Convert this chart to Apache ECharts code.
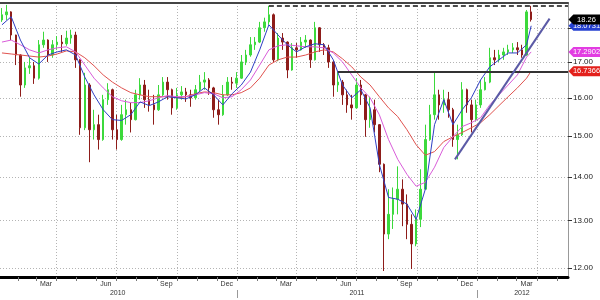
<!DOCTYPE html>
<html>
<head>
<meta charset="utf-8">
<script src="https://cdn.jsdelivr.net/npm/echarts@6/dist/echarts.min.js"></script>
<style>
  html, body { margin: 0; padding: 0; background: #fff; }
  #chart { width: 600px; height: 300px; }
</style>
</head>
<body>
<div id="chart"></div>
<script>
// Weekly bars, one per Friday from 2010-01-08.
// Each row is [open, close, low, high].
const ohlc = [
  [18.25, 18.41, 18.19, 18.62], [18.41, 18.50, 18.25, 18.72], [18.50, 17.79, 17.64, 18.52], [17.79, 17.20, 16.91, 17.80],
  [17.20, 16.35, 16.03, 17.22], [16.35, 16.83, 16.27, 17.00], [16.83, 16.89, 16.66, 17.12], [16.89, 16.54, 16.38, 17.00],
  [16.54, 17.50, 16.50, 17.64], [17.50, 17.64, 17.41, 17.89], [17.64, 17.20, 17.00, 17.66], [17.20, 17.50, 17.12, 17.64],
  [17.50, 17.58, 17.35, 17.76], [17.58, 17.53, 17.29, 17.79], [17.53, 17.70, 17.47, 17.92], [17.70, 17.79, 17.53, 17.95],
  [17.79, 17.06, 16.83, 17.89], [17.06, 15.21, 15.03, 17.08], [15.21, 16.35, 15.15, 16.69], [16.35, 15.16, 14.35, 16.40],
  [15.16, 15.29, 14.91, 15.68], [15.29, 14.91, 14.66, 15.55], [14.91, 15.95, 14.88, 16.08], [15.95, 16.22, 15.81, 16.40],
  [16.22, 15.16, 14.91, 16.25], [15.16, 14.91, 14.66, 15.55], [14.91, 15.55, 14.88, 15.81], [15.55, 15.68, 15.29, 15.95],
  [15.68, 15.42, 15.09, 15.87], [15.42, 16.08, 15.40, 16.22], [16.08, 16.35, 15.95, 16.54], [16.35, 15.95, 15.73, 16.49],
  [15.95, 15.81, 15.63, 16.22], [15.81, 15.68, 15.29, 16.08], [15.68, 16.08, 15.65, 16.35], [16.08, 16.43, 16.05, 16.57],
  [16.43, 16.22, 15.95, 16.57], [16.22, 15.73, 15.55, 16.25], [15.73, 16.08, 15.68, 16.27], [16.08, 16.16, 15.95, 16.32],
  [16.16, 16.08, 15.89, 16.27], [16.08, 16.00, 15.76, 16.22], [16.00, 16.22, 15.95, 16.35], [16.22, 16.43, 16.16, 16.63],
  [16.43, 16.49, 16.22, 16.71], [16.49, 16.27, 16.08, 16.54], [16.27, 15.68, 15.47, 16.30], [15.68, 15.55, 15.29, 15.95],
  [15.55, 16.08, 15.52, 16.35], [16.08, 16.43, 16.05, 16.57], [16.43, 16.40, 16.22, 16.57], [16.40, 16.54, 16.27, 16.71],
  [16.54, 17.00, 16.52, 17.20], [17.00, 17.20, 16.91, 17.35], [17.20, 17.50, 17.15, 17.73], [17.50, 17.58, 17.35, 17.73],
  [17.58, 18.01, 17.55, 18.19], [18.01, 18.19, 17.89, 18.32], [18.19, 18.41, 18.10, 18.69], [18.41, 17.06, 17.00, 18.45],
  [17.06, 17.70, 17.02, 17.85], [17.70, 17.58, 17.35, 17.85], [17.58, 16.77, 16.54, 17.60], [16.77, 17.41, 16.75, 17.55],
  [17.41, 17.35, 17.12, 17.55], [17.35, 17.58, 17.33, 17.73], [17.58, 17.64, 17.41, 17.79], [17.64, 17.06, 16.83, 17.66],
  [17.06, 18.01, 17.04, 18.19], [18.01, 17.50, 17.29, 18.03], [17.50, 17.41, 17.20, 17.55], [17.41, 17.00, 16.83, 17.50],
  [17.00, 16.35, 16.03, 17.02], [16.35, 16.43, 16.16, 16.71], [16.43, 16.08, 15.81, 16.49], [16.08, 15.81, 15.60, 16.22],
  [15.81, 15.73, 15.42, 16.08], [15.73, 16.35, 15.71, 16.54], [16.35, 16.08, 15.81, 16.49], [16.08, 15.42, 14.98, 16.10],
  [15.42, 15.68, 15.21, 16.03], [15.68, 15.29, 15.09, 15.95], [15.29, 14.30, 14.11, 15.30], [14.30, 12.71, 11.94, 14.32],
  [12.71, 13.14, 12.60, 13.71], [13.14, 13.48, 12.82, 13.75], [13.48, 13.71, 13.14, 14.25], [13.71, 13.37, 12.88, 13.94],
  [13.37, 12.92, 12.60, 13.59], [12.92, 12.50, 11.98, 13.14], [12.50, 13.03, 12.45, 13.25], [13.03, 13.71, 12.86, 14.18],
  [13.71, 14.91, 13.71, 15.29], [14.91, 15.55, 14.88, 15.81], [15.55, 16.08, 15.42, 16.71], [16.08, 15.81, 15.42, 16.22],
  [15.81, 15.95, 15.60, 16.22], [15.95, 15.68, 15.47, 16.16], [15.68, 14.91, 14.73, 15.73], [14.91, 15.03, 14.42, 15.29],
  [15.03, 16.22, 15.00, 16.43], [16.22, 15.81, 15.60, 16.25], [15.81, 15.42, 15.09, 15.95], [15.42, 15.81, 15.37, 15.95],
  [15.81, 16.22, 15.73, 16.49], [16.22, 16.43, 16.20, 16.57], [16.43, 17.12, 16.40, 17.41], [17.12, 17.06, 16.91, 17.35],
  [17.06, 17.20, 17.00, 17.35], [17.20, 17.29, 17.06, 17.41], [17.29, 17.35, 17.20, 17.50], [17.35, 17.41, 17.26, 17.55],
  [17.41, 17.35, 17.20, 17.58], [17.35, 17.20, 17.12, 17.50], [17.20, 18.50, 17.18, 18.56], [18.50, 18.26, 18.20, 18.69]
];
const firstFriday = [2010, 0, 8];

// Moving averages, read every second week (weeks 0, 2, ... 114) plus the last week.
const blueMA = [18.10, 18.35, 17.64, 17.12, 16.94, 17.20, 17.29, 17.35, 17.20, 16.57, 16.08, 15.68, 15.42, 15.40, 15.55,
  15.89, 15.79, 15.89, 16.03, 16.00, 15.97, 16.08, 16.27, 16.08, 15.81, 16.11, 16.35, 16.71, 17.35, 18.10, 17.79, 17.50,
  17.29, 17.44, 17.53, 17.50, 17.06, 16.35, 16.00, 16.22, 15.73, 14.30, 13.52, 13.48, 13.37, 13.03, 13.71, 15.29, 15.95,
  15.29, 15.68, 16.00, 16.49, 16.86, 17.06, 17.26, 17.26, 17.50, 18.07];
const pinkMA = [17.58, 17.64, 17.50, 17.35, 17.26, 17.35, 17.41, 17.44, 17.29, 16.91, 16.54, 16.27, 16.03, 15.92, 15.87,
  15.87, 15.92, 16.00, 16.06, 16.03, 16.03, 16.08, 16.14, 16.11, 16.00, 16.03, 16.22, 16.49, 16.91, 17.35, 17.47, 17.50,
  17.47, 17.44, 17.44, 17.41, 17.26, 17.00, 16.63, 16.27, 16.00, 15.55, 14.91, 14.42, 14.06, 13.78, 13.87, 14.23, 14.71,
  14.98, 15.24, 15.34, 15.47, 15.81, 16.08, 16.35, 16.63, 17.14, 17.29];
const redMA = [17.26, 17.23, 17.20, 17.17, 17.14, 17.17, 17.23, 17.32, 17.29, 17.12, 16.89, 16.63, 16.43, 16.27, 16.14,
  16.08, 16.03, 16.03, 16.03, 16.00, 16.03, 16.11, 16.16, 16.14, 16.08, 16.08, 16.14, 16.27, 16.54, 16.91, 17.06, 17.14,
  17.14, 17.20, 17.29, 17.35, 17.29, 17.09, 16.86, 16.57, 16.35, 16.03, 15.73, 15.50, 15.16, 14.78, 14.52, 14.61, 14.86,
  14.98, 15.09, 15.21, 15.34, 15.55, 15.79, 16.03, 16.27, 16.54, 16.74];

// Values printed in the tags on the right edge
const lastPrice = 18.26, blueLast = 18.0731, pinkLast = 17.2902, redLast = 16.7366;

// Drawn levels
const highLine = { from: '2011-02-18', value: 18.69 };
const supportLine = { from: '2011-06-03', value: 16.72 };
const trendLine = [['2011-11-28', 14.42], ['2012-04-20', 18.29]];

// Axes
const xMin = '2010-01-05', xMax = '2012-05-18';
const yMin = 11.82, yMax = 18.78;
const yGrid = [12, 13, 14, 15, 16, 17, 18];
const yLabels = [12, 13, 14, 15, 16, 17];
const monthNames = ['Jan', 'Feb', 'Mar', 'Apr', 'May', 'Jun', 'Jul', 'Aug', 'Sep', 'Oct', 'Nov', 'Dec'];
const monthLabelDates = ['2010-03-16', '2010-06-15', '2010-09-15', '2010-12-16', '2011-03-16',
  '2011-06-15', '2011-09-15', '2011-12-16', '2012-03-16'];
const yearLabelDates = ['2010-07-03', '2011-07-02', '2012-03-09'];
const yearBreaks = ['2011-01-01', '2012-01-01'];

const FONT = '"Liberation Sans", Arial, sans-serif';

// dates become UTC milliseconds on plain value axes
const ts = s => Date.parse(s + 'T00:00:00Z');
const X0 = ts(xMin), X1 = ts(xMax);

const weekTimes = ohlc.map((_, i) => Date.UTC(firstFriday[0], firstFriday[1], firstFriday[2] + i * 7));
const maTimes = blueMA.map((_, j) => weekTimes[j === blueMA.length - 1 ? ohlc.length - 1 : j * 2]);

// month starts inside the visible range; every third one gets a grid line
const monthStarts = [], quarterStarts = [];
for (let y = 2010; y <= 2012; y++) {
  for (let m = 0; m < 12; m++) {
    const t = Date.UTC(y, m, 1);
    if (t <= X0 || t >= X1) continue;
    monthStarts.push(t);
    if (m % 3 === 0) quarterStarts.push(t);
  }
}

function tag(value, text, bg) {
  return {
    coord: [X1, value],
    symbol: 'path://M0,5L5,0L34,0L34,10L5,10Z',
    symbolSize: [33, 10],
    symbolOffset: [17, 0],
    symbolKeepAspect: false,
    itemStyle: { color: bg },
    label: {
      show: true, position: 'inside', formatter: text, offset: [1.5, 0],
      color: '#fff', fontSize: 7.5, fontFamily: FONT
    }
  };
}

function maSeries(name, values, color, label, labelBg) {
  return {
    name, type: 'line', clip: false, symbol: 'none',
    data: values.map((v, j) => [maTimes[j], v]),
    lineStyle: { color, width: 1 },
    z: 3,
    markPoint: { silent: true, z: 5, data: [tag(label, label.toFixed(4), labelBg)] }
  };
}

const chart = echarts.init(document.getElementById('chart'), null, { renderer: 'canvas' });

const dotted = { lineStyle: { color: '#b4b4b4', type: [1, 2], width: 1 } };
const baseX = { type: 'value', min: X0, max: X1, scale: true };

chart.setOption({
  animation: false,
  backgroundColor: '#fff',
  grid: { left: 0, right: 32, top: 3, bottom: 23, containLabel: false },
  xAxis: [
    Object.assign({}, baseX, { // months
      position: 'bottom',
      axisLine: { show: true, lineStyle: { color: '#000', width: 3 } },
      axisTick: { show: true, length: 4, customValues: monthStarts, lineStyle: { color: '#777' } },
      axisLabel: {
        customValues: monthLabelDates.map(ts), margin: 4, fontSize: 7, color: '#333', fontFamily: FONT,
        formatter: v => monthNames[new Date(v).getUTCMonth()]
      },
      splitLine: { show: false }
    }),
    Object.assign({}, baseX, { // quarter grid lines
      position: 'bottom',
      axisLine: { show: false }, axisLabel: { show: false },
      axisTick: { show: false, customValues: quarterStarts },
      splitLine: Object.assign({ show: true }, dotted)
    }),
    Object.assign({}, baseX, { // years
      position: 'bottom', offset: 13,
      axisLine: { show: false },
      axisTick: { show: true, length: 8, customValues: yearBreaks.map(ts), lineStyle: { color: '#999' } },
      axisLabel: {
        customValues: yearLabelDates.map(ts), margin: 0, fontSize: 7, color: '#333', fontFamily: FONT,
        formatter: v => String(new Date(v).getUTCFullYear())
      },
      splitLine: { show: false }
    }),
    Object.assign({}, baseX, { // top border
      position: 'top',
      axisLine: { show: true, lineStyle: { color: '#444', width: 2 } },
      axisTick: { show: false }, axisLabel: { show: false }, splitLine: { show: false }
    })
  ],
  yAxis: {
    type: 'log', logBase: 10, min: yMin, max: yMax, position: 'right',
    axisLine: { show: true, lineStyle: { color: '#999', width: 1 } },
    axisTick: { show: true, length: 4, customValues: yGrid, lineStyle: { color: '#333' } },
    axisLabel: {
      customValues: yLabels, margin: 5, fontSize: 8, color: '#222', fontFamily: FONT,
      formatter: v => Number(v).toFixed(2)
    },
    splitLine: Object.assign({ show: true }, dotted)
  },
  series: [
    maSeries('red', redMA, '#e0534f', redLast, '#e3201b'),
    maSeries('pink', pinkMA, '#d95cd9', pinkLast, '#e23ce2'),
    maSeries('blue', blueMA, '#2f3fc4', blueLast, '#2540d0'),
    {
      name: 'price', type: 'candlestick', clip: false, barWidth: 2, z: 2,
      data: ohlc.map((r, i) => [weekTimes[i]].concat(r)),
      encode: { x: 0, y: [1, 2, 3, 4] },
      itemStyle: {
        color: '#3cd93c', color0: '#8e1d1a',
        borderColor: '#3cd93c', borderColor0: '#8e1d1a', borderWidth: 1
      },
      markLine: {
        silent: true, symbol: ['none', 'none'], label: { show: false }, z: 6,
        data: [
          [{ coord: [ts(highLine.from), highLine.value] }, { coord: [X1, highLine.value] }],
          [{ coord: [ts(supportLine.from), supportLine.value], lineStyle: { type: 'solid', color: '#333', width: 2 } },
           { coord: [X1, supportLine.value] }],
          [{ coord: [ts(trendLine[0][0]), trendLine[0][1]], lineStyle: { type: 'solid', color: '#5b5aa6', width: 2 } },
           { coord: [ts(trendLine[1][0]), trendLine[1][1]] }]
        ],
        lineStyle: { color: '#111', type: [5, 3], width: 1.5 }
      },
      markPoint: {
        silent: true, z: 10,
        data: [tag(lastPrice, lastPrice.toFixed(2), '#000')]
      }
    }
  ]
});
</script>
</body>
</html>
